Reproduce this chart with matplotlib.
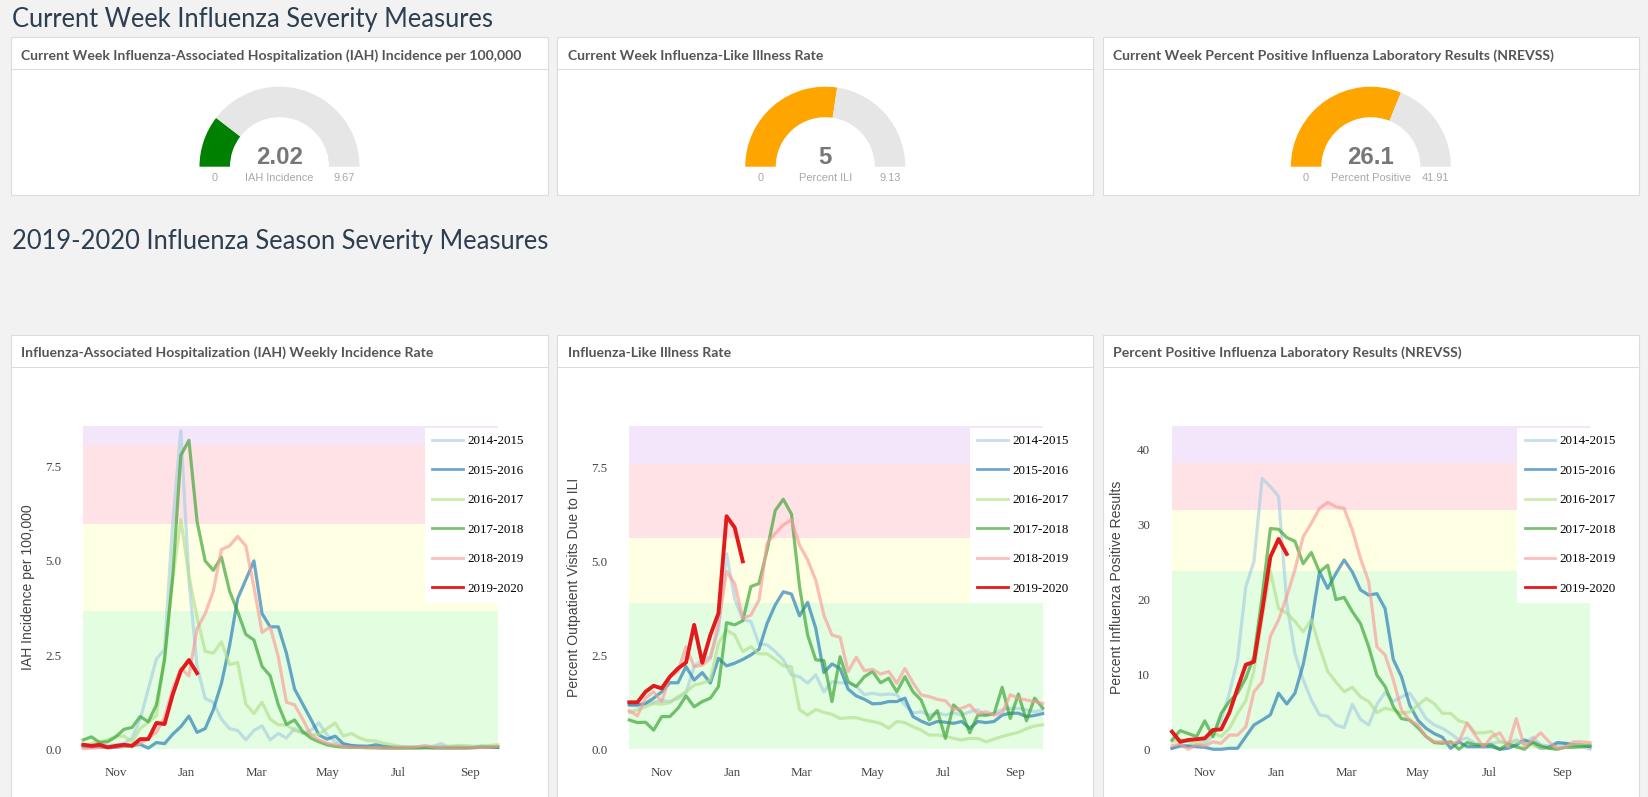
import numpy as np
import matplotlib.pyplot as plt
from matplotlib.patches import Wedge, Rectangle

W, H = 1649, 797
PT = 0.72  # px -> pt at 100 dpi

# ---------------- data ----------------
seasons = ['2014-2015', '2015-2016', '2016-2017', '2017-2018', '2018-2019', '2019-2020']
season_colors = ['#a6cee3', '#1f78b4', '#b2df8a', '#33a02c', '#fb9a99', '#e31a1c']

# IAH incidence per 100,000 (weekly, season starts early Oct)
iah_1415 = [0.05, 0.05, 0.08, 0.10, 0.12, 0.15, 0.30, 0.80, 1.60, 2.40, 2.65, 6.00, 8.45, 4.50, 2.20, 1.35, 1.25, 0.80,
            0.55, 0.50, 0.25, 0.50, 0.62, 0.25, 0.42, 0.30, 0.55, 0.42, 0.50, 0.70, 0.38, 0.20, 0.12, 0.10, 0.10, 0.08,
            0.06, 0.05, 0.05, 0.05, 0.05, 0.05, 0.06, 0.08, 0.15, 0.06, 0.05, 0.05, 0.05, 0.05, 0.05, 0.05]
iah_1516 = [0.08, 0.07, 0.06, 0.05, 0.05, 0.08, 0.10, 0.13, 0.03, 0.18, 0.15, 0.40, 0.60, 0.88, 0.45, 0.55, 1.05, 1.75,
            2.75, 4.00, 4.50, 5.00, 3.60, 3.25, 3.25, 2.55, 1.60, 1.20, 0.80, 0.38, 0.27, 0.35, 0.15, 0.10, 0.08, 0.08,
            0.12, 0.08, 0.06, 0.05, 0.05, 0.05, 0.05, 0.04, 0.05, 0.05, 0.06, 0.05, 0.05, 0.08, 0.06, 0.05]
iah_1617 = [0.10, 0.15, 0.20, 0.25, 0.35, 0.35, 0.20, 0.55, 0.72, 0.90, 2.50, 4.50, 6.10, 4.60, 3.50, 2.60, 2.55, 2.85,
            2.25, 2.30, 1.20, 0.95, 1.25, 0.80, 0.65, 0.65, 0.50, 0.45, 0.38, 0.40, 0.55, 0.70, 0.35, 0.42, 0.30, 0.23,
            0.22, 0.16, 0.12, 0.08, 0.06, 0.05, 0.05, 0.06, 0.05, 0.08, 0.10, 0.10, 0.08, 0.08, 0.10, 0.12]
iah_1718 = [0.25, 0.33, 0.18, 0.20, 0.33, 0.53, 0.58, 0.87, 0.73, 1.18, 2.37, 4.60, 7.80, 8.20, 6.05, 5.00, 4.75, 5.10,
            4.20, 3.65, 3.05, 2.90, 2.20, 1.95, 1.18, 0.66, 0.78, 0.47, 0.30, 0.20, 0.12, 0.08, 0.06, 0.05, 0.05, 0.04,
            0.04, 0.03, 0.03, 0.03, 0.03, 0.03, 0.04, 0.04, 0.03, 0.03, 0.03, 0.03, 0.04, 0.05, 0.05, 0.06]
iah_1819 = [0.02, 0.03, 0.05, 0.05, 0.06, 0.08, 0.12, 0.15, 0.30, 0.45, 0.85, 1.60, 2.15, 1.95, 3.20, 3.60, 4.20, 5.30,
            5.40, 5.65, 5.40, 4.30, 3.10, 3.25, 2.45, 1.25, 1.18, 0.80, 0.38, 0.25, 0.16, 0.12, 0.08, 0.06, 0.05, 0.05,
            0.04, 0.04, 0.04, 0.05, 0.05, 0.06, 0.10, 0.06, 0.05, 0.05, 0.04, 0.04, 0.05, 0.05, 0.05, 0.08]
iah_1920 = [0.12, 0.09, 0.12, 0.05, 0.09, 0.12, 0.09, 0.27, 0.27, 0.70, 0.67, 1.45, 2.08, 2.37, 2.02]

# percent outpatient visits due to ILI
ili_1415 = [1.18, 1.15, 1.20, 1.25, 1.30, 1.27, 1.35, 1.50, 2.20, 2.38, 2.46, 3.17, 5.20, 4.00, 3.45, 3.40, 2.80, 2.78,
            2.60, 2.38, 1.98, 1.93, 1.76, 1.98, 1.53, 1.80, 1.77, 1.76, 1.67, 1.45, 1.49, 1.45, 1.47, 1.45, 1.18, 0.96,
            1.00, 0.91, 0.97, 0.91, 0.97, 0.91, 1.00, 1.05, 0.91, 0.96, 1.05, 1.09, 1.09, 1.05, 1.00, 1.05]
ili_1516 = [1.18, 1.18, 1.22, 1.36, 1.53, 1.77, 1.77, 2.20, 1.84, 2.04, 1.76, 2.42, 2.22, 2.29, 2.39, 2.51, 2.66, 3.35,
            3.84, 4.19, 4.13, 3.55, 3.91, 3.22, 2.04, 2.27, 2.15, 1.60, 1.42, 1.33, 1.21, 1.22, 1.27, 1.27, 1.36, 0.87,
            0.75, 0.66, 0.74, 0.72, 0.69, 0.74, 0.56, 0.74, 0.71, 0.74, 0.91, 0.96, 0.96, 0.87, 0.90, 0.95]
ili_1617 = [0.98, 1.05, 1.13, 1.22, 1.20, 1.24, 1.40, 1.53, 1.71, 1.76, 1.84, 2.82, 3.17, 3.04, 2.60, 2.73, 2.54, 2.54,
            2.39, 2.22, 2.20, 1.05, 0.91, 1.06, 0.98, 0.93, 0.82, 0.84, 0.84, 0.78, 0.74, 0.69, 0.56, 0.74, 0.71, 0.60,
            0.51, 0.38, 0.38, 0.35, 0.29, 0.25, 0.29, 0.29, 0.20, 0.27, 0.34, 0.40, 0.45, 0.55, 0.62, 0.65]
ili_1718 = [0.78, 0.71, 0.72, 0.51, 0.87, 0.87, 1.09, 1.42, 1.13, 1.27, 1.36, 1.67, 3.37, 3.31, 3.42, 4.33, 4.41, 5.30,
            6.35, 6.65, 6.26, 4.33, 3.04, 2.38, 2.36, 1.27, 2.46, 1.80, 1.67, 1.93, 2.07, 1.77, 1.89, 1.53, 1.93, 1.53,
            1.31, 0.78, 1.03, 0.29, 1.18, 0.98, 0.44, 0.91, 0.91, 0.94, 1.65, 0.82, 1.47, 0.76, 1.36, 1.10]
ili_1819 = [1.03, 0.89, 1.36, 1.53, 1.27, 1.93, 2.07, 2.73, 2.20, 2.24, 2.42, 3.35, 4.73, 4.41, 3.48, 3.57, 3.97, 5.48,
            5.74, 5.97, 6.10, 5.43, 5.04, 4.50, 3.57, 3.04, 2.98, 2.07, 2.45, 2.09, 2.13, 2.00, 2.07, 1.76, 2.15, 1.77,
            1.45, 1.40, 1.33, 1.29, 1.06, 1.09, 1.18, 0.94, 1.00, 0.91, 0.97, 1.45, 1.36, 1.31, 1.27, 1.22]
ili_1920 = [1.25, 1.25, 1.53, 1.69, 1.62, 1.93, 2.15, 2.31, 3.31, 2.30, 3.04, 3.62, 6.20, 5.90, 5.00]

# percent positive influenza laboratory results
pos_1415 = [0.15, 0.60, 0.35, 0.50, 0.80, 1.80, 4.00, 7.50, 12.0, 21.7, 25.1, 36.2, 35.1, 33.8, 19.5, 12.8, 9.3, 6.6,
            4.6, 4.4, 3.25, 2.9, 6.0, 4.0, 3.25, 6.0, 7.6, 6.4, 7.0, 7.5, 5.9, 4.1, 3.25, 2.8, 2.1, 1.25,
            1.5, 0.8, 0.35, 0.8, 1.0, 0.9, 1.25, 0.8, 1.6, 0.6, 0.45, 0.6, 0.8, 0.6, 0.35, 0.0]
pos_1516 = [0.13, 0.45, 0.45, 0.35, 0.27, 0.0, 0.0, 0.13, 0.13, 1.7, 3.25, 3.9, 4.6, 7.5, 6.05, 7.5, 11.3, 16.8,
            23.7, 21.5, 23.5, 25.3, 23.7, 21.3, 20.6, 20.8, 18.8, 12.0, 9.7, 5.9, 3.9, 2.8, 2.1, 1.6, 0.13, 1.0,
            0.35, 0.35, 0.35, 0.35, 0.0, 0.13, 0.6, 1.25, 0.8, 0.13, 0.27, 0.9, 0.8, 0.6, 0.6, 0.35]
pos_1617 = [1.0, 1.3, 1.0, 0.8, 1.2, 2.2, 1.7, 2.8, 4.8, 6.5, 10.5, 17.5, 23.8, 18.8, 18.2, 17.1, 15.7, 17.3,
            13.7, 10.4, 9.0, 7.7, 8.3, 7.0, 6.4, 4.9, 5.5, 5.25, 4.8, 5.0, 5.9, 6.8, 6.1, 4.8, 4.8, 3.8,
            3.5, 2.2, 2.2, 2.4, 1.0, 0.8, 1.0, 0.8, 0.6, 0.15, 0.15, 0.15, 0.35, 0.6, 0.6, 0.6]
pos_1718 = [1.25, 2.5, 2.1, 1.7, 3.8, 1.7, 4.8, 6.4, 7.5, 9.5, 12.4, 20.4, 29.5, 29.4, 28.3, 27.8, 24.8, 26.3,
            23.7, 24.6, 20.0, 20.3, 18.4, 16.8, 13.7, 9.9, 8.4, 5.7, 4.1, 3.9, 2.9, 1.7, 0.9, 0.8, 1.0, 0.0,
            0.9, 0.6, 0.6, 0.6, 0.0, 0.7, 0.35, 0.0, 1.0, 0.45, 0.13, 0.0, 0.27, 0.27, 0.35, 0.45]
pos_1819 = [0.45, 0.7, 0.0, 0.6, 0.45, 1.0, 0.8, 1.9, 1.9, 3.0, 7.7, 9.0, 15.1, 17.3, 20.4, 24.0, 28.4, 30.2,
            32.2, 33.0, 32.4, 32.2, 29.3, 25.5, 22.4, 13.7, 12.6, 9.3, 5.25, 3.9, 3.25, 1.7, 1.0, 1.0, 0.8, 1.0,
            3.5, 1.9, 0.27, 1.7, 2.2, 0.35, 4.1, 0.35, 1.25, 2.2, 1.0, 0.13, 0.27, 1.0, 1.0, 0.9]
pos_1920 = [2.36, 1.0, 1.25, 1.34, 1.47, 2.58, 2.67, 4.9, 8.15, 11.3, 11.7, 18.5, 25.7, 28.1, 26.1]

# severity thresholds (top of green, yellow, red, purple bands)
iah_bands = [3.67, 5.99, 8.07, 8.58]
ili_bands = [3.90, 5.63, 7.60, 8.60]
pos_bands = [23.8, 31.95, 38.2, 43.2]
band_colors = ['#e2fde0', '#ffffe4', '#ffe2e5', '#f4e6fa']

month_labels = ['Nov', 'Jan', 'Mar', 'May', 'Jul', 'Sep']
month_days = [28, 89, 149, 210, 271, 333]  # days after season start

# current week gauges
gauge_titles = ['Current Week Influenza-Associated Hospitalization (IAH) Incidence per 100,000',
                'Current Week Influenza-Like Illness Rate',
                'Current Week Percent Positive Influenza Laboratory Results (NREVSS)']
gauge_values = [2.02, 5, 26.1]
gauge_max = [9.67, 9.13, 41.91]
gauge_names = ['IAH Incidence', 'Percent ILI', 'Percent Positive']
gauge_colors = ['#008000', '#ffa500', '#ffa500']

chart_titles = ['Influenza-Associated Hospitalization (IAH) Weekly Incidence Rate',
                'Influenza-Like Illness Rate',
                'Percent Positive Influenza Laboratory Results (NREVSS)']
chart_ylabels = ['IAH Incidence per 100,000', 'Percent Outpatient Visits Due to ILI',
                 'Percent Influenza Positive Results']

# ---------------- layout ----------------
fig = plt.figure(figsize=(W / 100, H / 100), dpi=100, facecolor='#f2f2f2')
bg = fig.add_axes([0, 0, 1, 1])
bg.set_xlim(0, W)
bg.set_ylim(H, 0)
bg.axis('off')

cols = [(11, 548), (557.5, 1093), (1102.7, 1639)]
title_color = '#2c3e50'
head_color = '#555555'
edge = '#dcdcdc'

bg.text(12, 27, 'Current Week Influenza Severity Measures', fontsize=25.5 * PT,
        family='Lato', color=title_color, va='baseline')
bg.text(12, 249, '2019-2020 Influenza Season Severity Measures', fontsize=25.5 * PT,
        family='Lato', color=title_color, va='baseline')

for (x0, x1), ttl, top_ttl in zip(cols, chart_titles, gauge_titles):
    for ptop, pbot in [(37.3, 194.5), (334.5, 810)]:
        bg.add_patch(Rectangle((x0, ptop), x1 - x0, pbot - ptop, fc='white', ec=edge, lw=0.8))
        bg.plot([x0, x1], [ptop + 32, ptop + 32], color=edge, lw=0.8)
    bg.text(x0 + 10.5, 60, top_ttl, fontsize=14 * PT, family='Lato', weight='bold',
            color=head_color, va='baseline')
    bg.text(x0 + 10.5, 357, ttl, fontsize=14 * PT, family='Lato', weight='bold',
            color=head_color, va='baseline')

# gauges
R, r, cy = 80, 49.5, 166.7
for (x0, x1), val, vmax, name, col in zip(cols, gauge_values, gauge_max, gauge_names, gauge_colors):
    cx = (x0 + x1) / 2
    frac = val / vmax
    bg.add_patch(Wedge((cx, cy), R, 180, 180 + 180 * frac, width=R - r, fc=col, ec='none'))
    bg.add_patch(Wedge((cx, cy), R, 180 + 180 * frac, 360, width=R - r, fc='#e6e6e6', ec='none'))
    bg.text(cx, 164, f'{val:g}', fontsize=24 * PT, weight='bold', family='Liberation Sans',
            color='#777777', ha='center', va='baseline')
    mid = (R + r) / 2
    for xx, s in [(cx - mid, '0'), (cx, name), (cx + mid, f'{vmax:g}')]:
        bg.text(xx, 177.7, s, fontsize=11 * PT, family='Liberation Sans', color='#a8a8a8',
                ha='center', va='center')

# line charts
chart_x = [(83.3, 497.7), (629.3, 1042.7), (1172, 1590)]
ctop, cbot = 426, 749.3
series = [[iah_1415, iah_1516, iah_1617, iah_1718, iah_1819, iah_1920],
          [ili_1415, ili_1516, ili_1617, ili_1718, ili_1819, ili_1920],
          [pos_1415, pos_1516, pos_1617, pos_1718, pos_1819, pos_1920]]
bands_all = [iah_bands, ili_bands, pos_bands]
yticks_all = [[0, 2.5, 5, 7.5], [0, 2.5, 5, 7.5], [0, 10, 20, 30, 40]]
yfmt = ['{:.1f}', '{:.1f}', '{:.0f}']
weeks = np.arange(52)
month_pos = np.array(month_days) / 7

for k in range(3):
    bx0, bx1 = chart_x[k]
    bw, bh = bx1 - bx0, cbot - ctop
    ax = fig.add_axes([bx0 / W, 1 - cbot / H, bw / W, bh / H])
    ax.set_facecolor('none')
    lower = 0
    for b, c in zip(bands_all[k], band_colors):
        ax.axhspan(lower, b, color=c, lw=0, zorder=0)
        lower = b
    for j, (vals, lab, col) in enumerate(zip(series[k], seasons, season_colors)):
        current = j == len(seasons) - 1
        ax.plot(weeks[:len(vals)], vals, color=col, lw=2.8 if current else 2.3,
                alpha=1 if current else 0.65, label=lab, clip_on=False, zorder=3 + j)
    ax.set_xlim(0, 51)
    ax.set_ylim(0, bands_all[k][-1])
    for s in ax.spines.values():
        s.set_visible(False)
    ax.set_yticks(yticks_all[k])
    ax.set_yticklabels([yfmt[k].format(t) for t in yticks_all[k]])
    ax.set_xticks(month_pos)
    ax.set_xticklabels(month_labels)
    ax.tick_params(axis='y', length=0, pad=15.8, labelsize=13 * PT, labelcolor='#444444')
    ax.tick_params(axis='x', length=0, pad=13, labelsize=13 * PT, labelcolor='#444444')
    for t in ax.get_xticklabels() + ax.get_yticklabels():
        t.set_family('Liberation Serif')
    ax.set_ylabel(chart_ylabels[k], fontsize=14 * PT, family='Liberation Sans', color='#444444', va='center')
    ax.yaxis.set_label_coords(-55 / bw, 0.5)
    leg = ax.legend(loc='upper left', bbox_to_anchor=(1 - 73 / bw, (cbot - 427.5) / bh), borderaxespad=0,
                    frameon=True, fancybox=False, framealpha=1, edgecolor='none', facecolor='white',
                    prop={'family': 'Liberation Serif', 'size': 13 * PT}, handlelength=2.31,
                    handletextpad=0.38, labelspacing=1.34, borderpad=0.6)
    for line in leg.get_lines():
        line.set_linewidth(2.0)
    leg.set_zorder(20)

fig.savefig('out.png', dpi=100, facecolor=fig.get_facecolor())
